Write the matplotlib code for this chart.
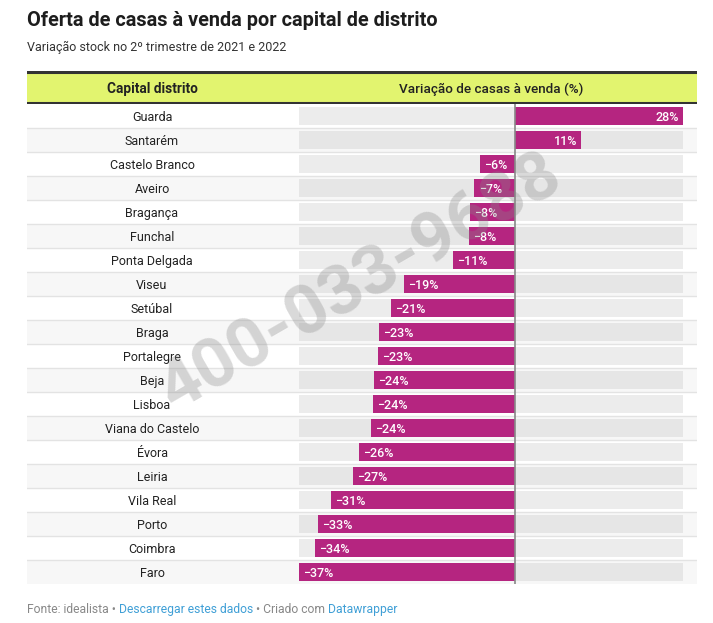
import matplotlib
matplotlib.use('Agg')
import matplotlib.pyplot as plt

plt.rcParams['font.family'] = ['Roboto', 'DejaVu Sans']

# data
capitais = ['Guarda', 'Santarém', 'Castelo Branco', 'Aveiro', 'Bragança', 'Funchal',
            'Ponta Delgada', 'Viseu', 'Setúbal', 'Braga', 'Portalegre', 'Beja', 'Lisboa',
            'Viana do Castelo', 'Évora', 'Leiria', 'Vila Real', 'Porto', 'Coimbra', 'Faro']
variacao = [28.4, 11.2, -5.9, -6.9, -7.7, -7.8, -10.6, -18.8, -21.0, -23.1, -23.2,
            -23.9, -24.1, -24.4, -26.4, -27.4, -31.2, -33.4, -33.9, -36.6]

W, H = 713, 623
fig = plt.figure(figsize=(W / 100, H / 100), dpi=100)
fig.patch.set_facecolor('white')


def fx(x):
    return x / W


def fy(y):
    return 1 - y / H


def rect(x0, y0, x1, y1):
    return [fx(x0), fy(y1), (x1 - x0) / W, (y1 - y0) / H]


n = len(capitais)
rows = list(range(n))

# titles
fig.text(fx(27), fy(18), 'Oferta de casas à venda por capital de distrito',
         fontsize=14.3, fontweight='bold', color='#1d1d1d', va='center_baseline')
fig.text(fx(27), fy(46), 'Variação stock no 2º trimestre de 2021 e 2022',
         fontsize=9.0, color='#333333', va='center_baseline')

# header
hdr = fig.add_axes(rect(27, 71, 697, 104))
hdr.set_xlim(0, 1)
hdr.set_ylim(0, 1)
hdr.axis('off')
hdr.axhspan(0, 1, color='#e2f46f')
hdr.axhline(0.97, color='#333333', lw=2.2)
hdr.axhline(0.03, color='#333333', lw=2.2)
hdr.text((152 - 27) / 670, 0.5, 'Capital distrito', ha='center', va='center_baseline',
         fontsize=9.8, fontweight='bold', color='#222222')
hdr.text((491 - 27) / 670, 0.5, 'Variação de casas à venda (%)', ha='center',
         va='center_baseline', fontsize=9.7, fontweight='medium', color='#222222')

# table body: stripes, separators, names
tab = fig.add_axes(rect(27, 104, 697, 584))
tab.set_xlim(0, 1)
tab.set_ylim(n - 0.5, -0.5)
tab.axis('off')
for i in rows:
    if i % 2 == 1:
        tab.axhspan(i - 0.5, i + 0.5, color='#f7f7f7', lw=0)
    if i < n - 1:
        tab.axhline(i + 0.5, color='#e3e3e3', lw=1)
    tab.text((152 - 27) / 670, i, capitais[i], ha='center', va='center_baseline',
             fontsize=9.0, color='#222222')

# bars
ax = fig.add_axes(rect(299, 104, 683, 584))
ax.patch.set_visible(False)
vmin, vmax = min(variacao), max(variacao)
ax.set_xlim(vmin, vmax)
ax.set_ylim(n - 0.5, -0.5)
ax.axis('off')
bg_cols = ['#ececec' if i % 2 == 0 else '#e6e6e6' for i in rows]
ax.barh(rows, vmax - vmin, left=vmin, height=0.75, color=bg_cols, lw=0)
ax.barh(rows, variacao, height=0.75, color='#b52580', lw=0, zorder=3)
ax.axvline(0, color='#888888', lw=1.2, zorder=4)
pad = 0.7
for i, v in zip(rows, variacao):
    lab = '%d%%' % round(abs(v))
    if v < 0:
        ax.text(v + pad, i, '\u2212' + lab, ha='left', va='center_baseline', fontsize=9,
                fontweight='medium', color='white', zorder=5)
    else:
        ax.text(v - pad, i, lab, ha='right', va='center_baseline', fontsize=9,
                fontweight='medium', color='white', zorder=5)

# watermark
fig.text(fx(360), fy(283), '400-033-9688', rotation=30, ha='center', va='center',
         fontsize=50, fontweight='bold', color='#888888', alpha=0.32, zorder=10)

# footer with coloured pieces
pieces = [('Fonte: idealista \u2022 ', '#888888'), ('Descarregar estes dados', '#3f9fd6'),
          (' \u2022 Criado com ', '#888888'), ('Datawrapper', '#3f9fd6')]
renderer = fig.canvas.get_renderer()
x = 27
for txt, col in pieces:
    t = fig.text(fx(x), fy(608), txt, fontsize=8.7, color=col, va='center_baseline')
    x += t.get_window_extent(renderer).width

fig.savefig('out.png', dpi=100)
